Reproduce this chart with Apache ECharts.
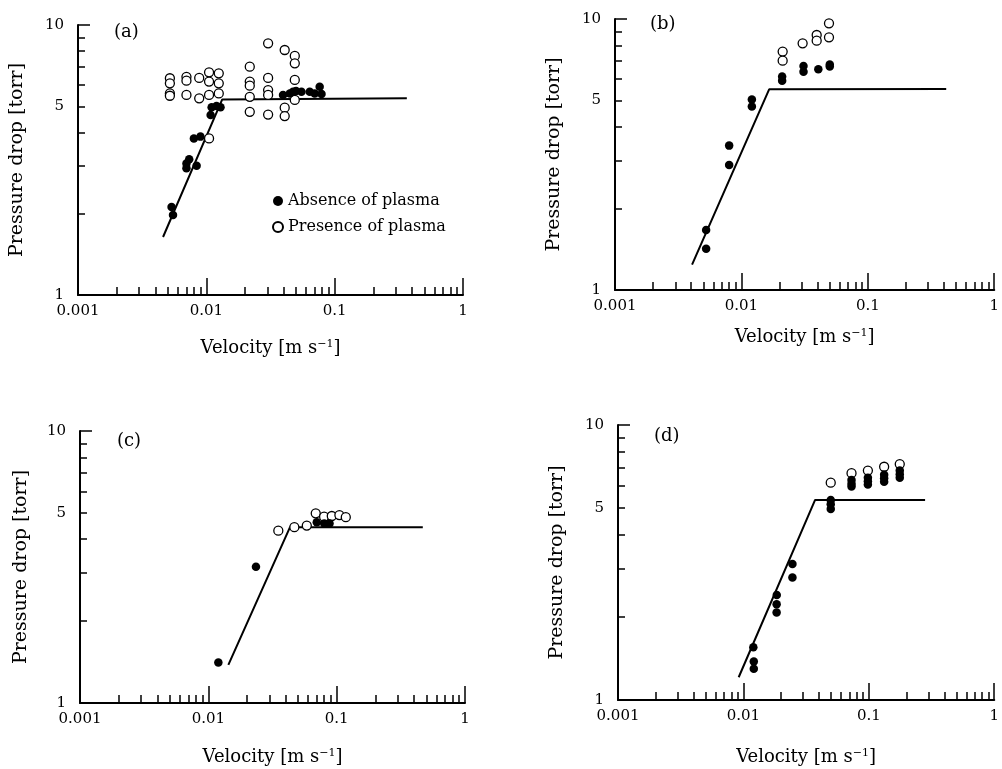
<!DOCTYPE html>
<html>
<head>
<meta charset="utf-8">
<script src="https://cdn.jsdelivr.net/npm/echarts@6/dist/echarts.min.js"></script>
<style>
html, body { margin: 0; padding: 0; background: #fff; }
#main { width: 1002px; height: 769px; }
</style>
</head>
<body>
<div id="main"></div>
<script>
// axis ticks
var velocityTicks = [0.001, 0.01, 0.1, 1];
var velocityTickLabels = ['0.001', '0.01', '0.1', '1'];
var velocityMajorTicks = [0.01, 0.1, 1];
var velocityMinorTicks = [0.002, 0.003, 0.004, 0.005, 0.006, 0.007, 0.008, 0.009,
    0.02, 0.03, 0.04, 0.05, 0.06, 0.07, 0.08, 0.09,
    0.2, 0.3, 0.4, 0.5, 0.6, 0.7, 0.8, 0.9];
var pressureTicks = [1, 5, 10];
var pressureMajorTicks = [10];
var pressureMinorTicks = [2, 3, 4, 5, 6, 7, 8, 9];

// (a)
var absenceA = [[0.00536, 2.12], [0.0055, 1.98], [0.0070, 3.07], [0.00735, 3.18], [0.0070, 2.95],
    [0.0084, 3.01], [0.0080, 3.80], [0.0090, 3.86], [0.0108, 4.64], [0.0110, 4.96], [0.0120, 5.01],
    [0.0129, 4.96], [0.0396, 5.51], [0.0447, 5.58], [0.0474, 5.66], [0.050, 5.7], [0.0551, 5.66],
    [0.0639, 5.66], [0.0699, 5.58], [0.0764, 5.91], [0.079, 5.55]];
var presenceA = [[0.0052, 6.35], [0.0052, 6.08], [0.0052, 5.58], [0.0052, 5.47],
    [0.0070, 6.43], [0.0070, 6.22], [0.0070, 5.51],
    [0.0088, 6.37], [0.0088, 5.35],
    [0.0105, 6.68], [0.0105, 6.17], [0.0105, 5.51], [0.0105, 3.80],
    [0.0125, 6.62], [0.0125, 6.08], [0.0125, 5.58],
    [0.0218, 7.01], [0.0218, 6.17], [0.0218, 5.96], [0.0218, 5.42], [0.0218, 4.77],
    [0.0303, 8.55], [0.0303, 6.37], [0.0303, 5.74], [0.0303, 5.51], [0.0303, 4.66],
    [0.0408, 8.08], [0.0408, 4.94], [0.0408, 4.60],
    [0.0489, 7.68], [0.0489, 7.21], [0.0489, 6.26], [0.0489, 5.28]];
var fitA = [[0.0046, 1.64], [0.0133, 5.3], [0.365, 5.35]];

// (b)
var absenceB = [[0.00526, 1.665], [0.00526, 1.42], [0.0080, 3.41], [0.0080, 2.89], [0.0121, 5.05],
    [0.0121, 4.75], [0.0210, 6.13], [0.0210, 5.92], [0.0310, 6.71], [0.0310, 6.39], [0.0406, 6.52],
    [0.050, 6.80], [0.050, 6.68]];
var presenceB = [[0.0212, 7.58], [0.0212, 7.02], [0.0305, 8.13], [0.0394, 8.73], [0.0394, 8.32],
    [0.0493, 9.64], [0.0493, 8.56]];
var fitB = [[0.00407, 1.24], [0.01657, 5.50], [0.417, 5.52]];

// (c)
var absenceC = [[0.01197, 1.41], [0.0235, 3.17], [0.070, 4.62], [0.080, 4.57], [0.088, 4.57]];
var presenceC = [[0.0351, 4.30], [0.0468, 4.43], [0.0585, 4.49], [0.0687, 4.98], [0.0798, 4.84],
    [0.0916, 4.87], [0.105, 4.91], [0.1178, 4.82]];
var fitC = [[0.01432, 1.38], [0.0433, 4.43], [0.469, 4.43]];

// (d)
var absenceD = [[0.0120, 1.555], [0.0121, 1.38], [0.0121, 1.30], [0.01845, 2.41], [0.0184, 2.23],
    [0.0184, 2.08], [0.0246, 3.12], [0.0246, 2.79], [0.0497, 5.34], [0.0497, 5.15], [0.0497, 4.95],
    [0.0728, 6.31], [0.0728, 6.12], [0.0728, 5.97], [0.0983, 6.43], [0.0983, 6.25], [0.0983, 6.08],
    [0.1325, 6.59], [0.1325, 6.40], [0.1325, 6.22], [0.1765, 6.83], [0.1765, 6.62], [0.1765, 6.43]];
var presenceD = [[0.0497, 6.17], [0.0728, 6.68], [0.0983, 6.83], [0.1325, 7.05], [0.1765, 7.21]];
var fitD = [[0.00917, 1.21], [0.0373, 5.34], [0.281, 5.34]];

var FONT = "'DejaVu Serif', serif";

var panels = [
    {tag: '(a)', tagPos: [114, 23], grid: {left: 78, top: 25, width: 385, height: 270}, xGap: 44, yGap: 51,
        absence: absenceA, presence: presenceA, fit: fitA},
    {tag: '(b)', tagPos: [650, 15], grid: {left: 615, top: 19, width: 385, height: 271}, xGap: 38, yGap: 51,
        absence: absenceB, presence: presenceB, fit: fitB},
    {tag: '(c)', tagPos: [117, 432], grid: {left: 80, top: 431, width: 385, height: 272}, xGap: 45, yGap: 49,
        absence: absenceC, presence: presenceC, fit: fitC},
    {tag: '(d)', tagPos: [654, 427], grid: {left: 618, top: 425, width: 385, height: 275}, xGap: 48, yGap: 51,
        absence: absenceD, presence: presenceD, fit: fitD}
];

function velocityLabel(v) {
    for (var k = 0; k < velocityTicks.length; k++) {
        if (Math.abs(Math.log10(v) - Math.log10(velocityTicks[k])) < 1e-6) return velocityTickLabels[k];
    }
    return '';
}

var option = {
    animation: false,
    backgroundColor: '#fff',
    title: [],
    grid: [],
    xAxis: [],
    yAxis: [],
    legend: {
        data: ['Absence of plasma', 'Presence of plasma'],
        orient: 'vertical',
        left: 272,
        top: 193,
        padding: 0,
        itemWidth: 10,
        itemHeight: 10,
        itemGap: 10,
        selectedMode: false,
        textStyle: {fontFamily: FONT, fontSize: 16, color: '#000'}
    },
    series: []
};

panels.forEach(function (p, i) {
    option.title.push({
        text: p.tag, left: p.tagPos[0], top: p.tagPos[1], padding: 0,
        textStyle: {fontFamily: FONT, fontSize: 18, fontWeight: 'normal', color: '#000'}
    });
    option.grid.push(p.grid);

    // main velocity axis
    option.xAxis.push({
        gridIndex: i, type: 'log', logBase: 10, min: 0.001, max: 1, position: 'bottom',
        name: 'Velocity [m s{sup|\u22121}]', nameLocation: 'middle', nameGap: p.xGap,
        nameTextStyle: {fontFamily: FONT, fontSize: 18, color: '#000',
            rich: {sup: {fontFamily: FONT, fontSize: 11, color: '#000', verticalAlign: 'top'}}},
        axisLine: {onZero: false, lineStyle: {color: '#000', width: 2}},
        axisTick: {inside: true, length: 17, customValues: velocityMajorTicks, lineStyle: {color: '#000', width: 1.5}},
        axisLabel: {customValues: velocityTicks, formatter: velocityLabel, margin: 9,
            fontFamily: FONT, fontSize: 15, color: '#000'},
        splitLine: {show: false}
    });
    // minor velocity ticks
    option.xAxis.push({
        gridIndex: i, type: 'log', logBase: 10, min: 0.001, max: 1, position: 'bottom',
        axisLine: {show: false, onZero: false},
        axisTick: {inside: true, length: 8, customValues: velocityMinorTicks, lineStyle: {color: '#000', width: 1.5}},
        axisLabel: {show: false},
        splitLine: {show: false}
    });
    // main pressure axis
    option.yAxis.push({
        gridIndex: i, type: 'log', logBase: 10, min: 1, max: 10, position: 'left',
        name: 'Pressure drop [torr]', nameLocation: 'middle', nameGap: p.yGap,
        nameTextStyle: {fontFamily: FONT, fontSize: 19, color: '#000'},
        axisLine: {onZero: false, lineStyle: {color: '#000', width: 2}},
        axisTick: {inside: true, length: 12, customValues: pressureMajorTicks, lineStyle: {color: '#000', width: 1.5}},
        axisLabel: {customValues: pressureTicks, margin: 14, fontFamily: FONT, fontSize: 15, color: '#000',
            formatter: function (v) { return String(Math.round(v)); }},
        splitLine: {show: false}
    });
    // minor pressure ticks
    option.yAxis.push({
        gridIndex: i, type: 'log', logBase: 10, min: 1, max: 10, position: 'left',
        axisLine: {show: false, onZero: false},
        axisTick: {inside: true, length: 7, customValues: pressureMinorTicks, lineStyle: {color: '#000', width: 1.5}},
        axisLabel: {show: false},
        splitLine: {show: false}
    });

    option.series.push({
        type: 'line', xAxisIndex: 2 * i, yAxisIndex: 2 * i, data: p.fit,
        symbol: 'none', silent: true, z: 2,
        lineStyle: {color: '#000', width: 2}
    });
    option.series.push({
        name: 'Presence of plasma', type: 'scatter', xAxisIndex: 2 * i, yAxisIndex: 2 * i,
        data: p.presence, symbol: 'circle', symbolSize: 9, z: 3,
        itemStyle: {color: '#fff', borderColor: '#000', borderWidth: 1.3, opacity: 1}
    });
    option.series.push({
        name: 'Absence of plasma', type: 'scatter', xAxisIndex: 2 * i, yAxisIndex: 2 * i,
        data: p.absence, symbol: 'circle', symbolSize: 8.5, z: 4,
        itemStyle: {color: '#000', opacity: 1}
    });
});

var chart = echarts.init(document.getElementById('main'));
chart.setOption(option);
</script>
</body>
</html>
